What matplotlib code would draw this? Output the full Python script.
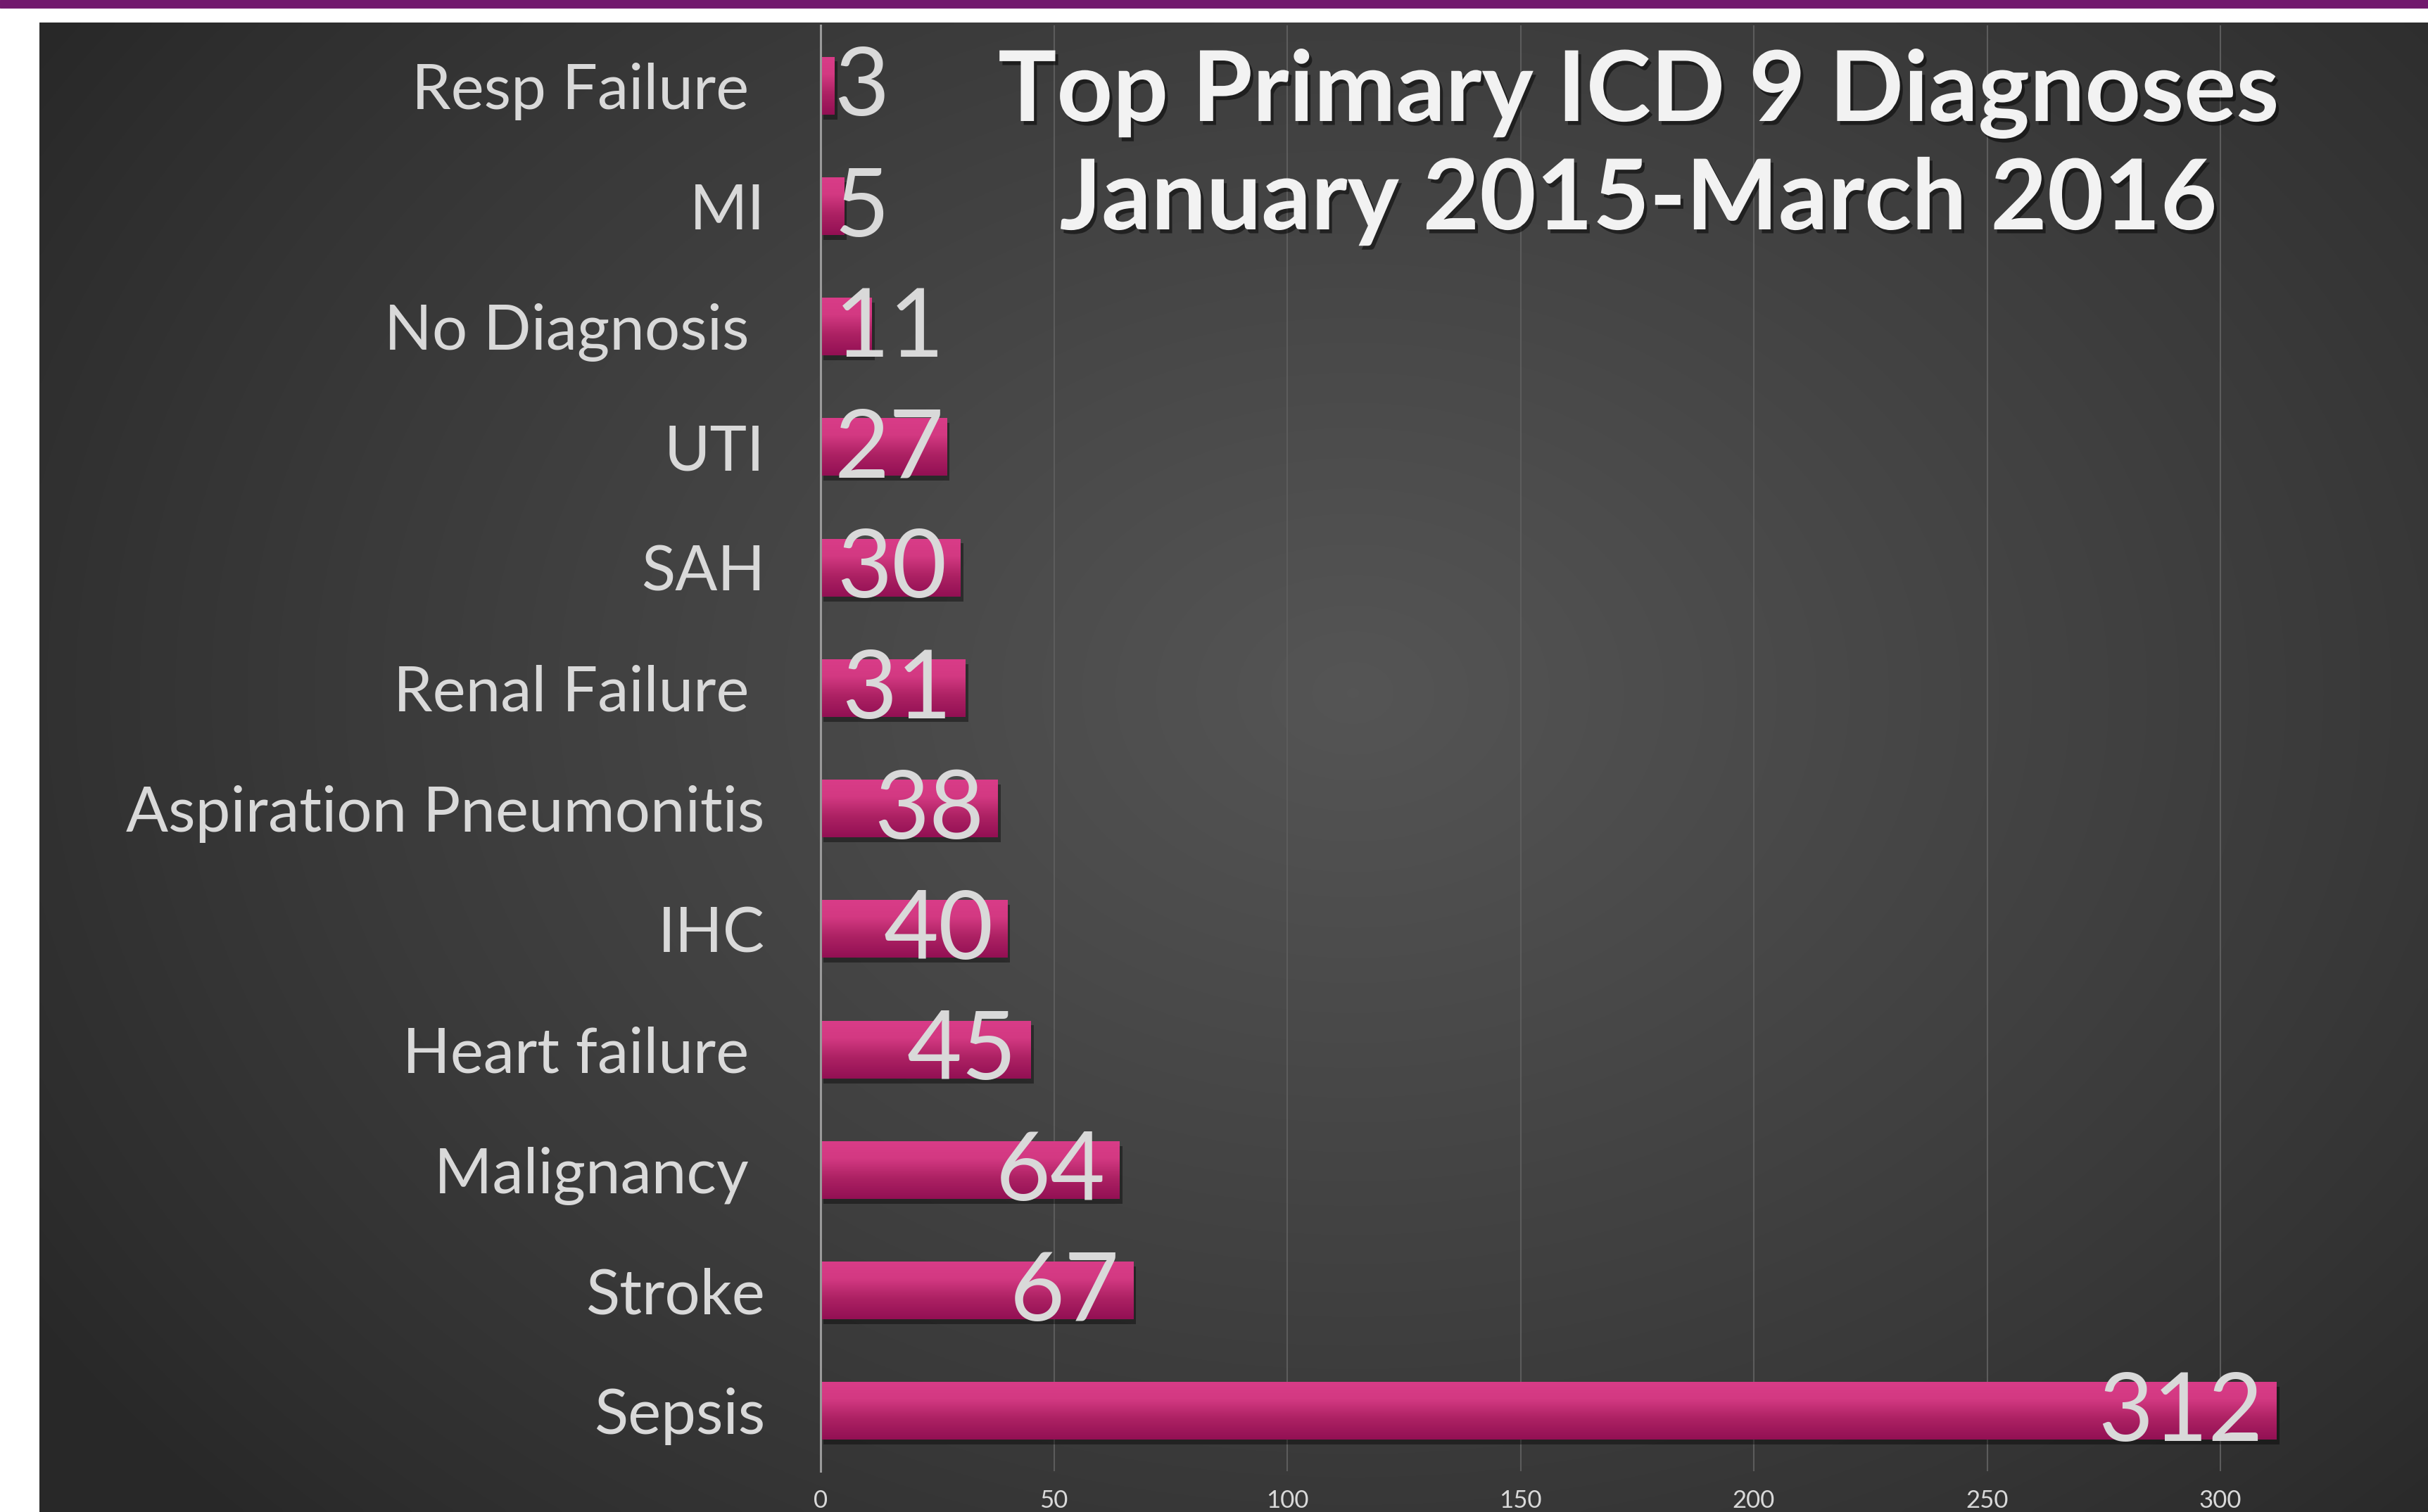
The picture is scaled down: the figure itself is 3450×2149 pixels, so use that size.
import numpy as np
import matplotlib
matplotlib.use('Agg')
import matplotlib.pyplot as plt
import matplotlib.patheffects as pe
from matplotlib.colors import LinearSegmentedColormap
from matplotlib.patches import Rectangle

# ── Data (top to bottom as shown) ────────────────────────────────────────────
diagnoses = ['Resp Failure ', 'MI', 'No Diagnosis ', 'UTI', 'SAH', 'Renal Failure ',
             'Aspiration Pneumonitis', 'IHC', 'Heart failure ', 'Malignancy ',
             'Stroke', 'Sepsis']
counts = [3, 5, 11, 27, 30, 31, 38, 40, 45, 64, 67, 312]
xticks = [0, 50, 100, 150, 200, 250, 300]
title_lines = ['Top Primary ICD 9 Diagnoses', 'January 2015-March 2016']

W, H, DPI = 3450, 2149, 100
FONT = ['Lato', 'DejaVu Sans']
LABEL_C = '#d9d9d9'

fig = plt.figure(figsize=(W / DPI, H / DPI), dpi=DPI, facecolor='white')

# purple strip at the top
fig.patches.append(Rectangle((0, 1 - 11 / H), 1, 11 / H, transform=fig.transFigure,
                             color='#72196D', zorder=0))

# dark panel with a soft radial light in the middle
bg = fig.add_axes([56 / W, 0, 1 - 56 / W, (H - 32) / H], zorder=0)
gx, gy = np.meshgrid(np.linspace(0, 1, 600), np.linspace(0, 1, 400))
r = np.sqrt(((gx - 0.55) / 0.66) ** 2 + ((gy - 0.45) / 0.8) ** 2)
shade = np.clip(1 - r, 0, 1) ** 0.9
bg_cmap = LinearSegmentedColormap.from_list('bg', ['#282828', '#555555'])
bg.imshow(shade, cmap=bg_cmap, aspect='auto', vmin=0, vmax=1, interpolation='bicubic')
bg.set_axis_off()

# main chart
ax = fig.add_axes([1166 / W, 1 - 2091 / H, (3354 - 1166) / W, (2091 - 36) / H], zorder=2)
ax.patch.set_alpha(0)
ypos = np.arange(len(diagnoses))
bars = ax.barh(ypos, counts, height=0.48, color='#C42C74', zorder=3)

bar_cmap = LinearSegmentedColormap.from_list(
    'bar', [(0, '#D93C88'), (0.3, '#D33982'), (0.65, '#AC2163'), (1, '#931054')])
grad = np.linspace(0, 1, 64).reshape(-1, 1)
for b in bars:
    b.set_path_effects([pe.SimplePatchShadow(offset=(3, -5), shadow_rgbFace='black', alpha=0.4),
                        pe.Normal()])
    x0, y0, w, h = b.get_x(), b.get_y(), b.get_width(), b.get_height()
    im = ax.imshow(grad, cmap=bar_cmap, aspect='auto', extent=(x0, x0 + w, y0 + h, y0),
                   zorder=4, interpolation='bicubic')
    im.set_clip_path(b)
ax.set_xlim(0, 330)
ax.set_ylim(len(diagnoses) - 0.5, -0.5)

ax.set_xticks(xticks)
ax.set_yticks(ypos)
ax.set_yticklabels(diagnoses)
ax.tick_params(axis='y', length=0, pad=57, labelsize=64, labelcolor=LABEL_C)
ax.tick_params(axis='x', length=0, pad=19, labelsize=25, labelcolor=LABEL_C)
for lab in ax.get_xticklabels() + ax.get_yticklabels():
    lab.set_family(FONT)
ax.grid(axis='x', color='#5c5c5c', lw=1.5, zorder=1)
ax.grid(axis='y', visible=False)
for s in ['top', 'right', 'bottom']:
    ax.spines[s].set_visible(False)
ax.spines['left'].set_color('#9a9a9a')
ax.spines['left'].set_linewidth(2.2)
ax.spines['left'].set_zorder(5)

# value labels: inside the bar end, or from the bar start when they do not fit
fig.canvas.draw()
renderer = fig.canvas.get_renderer()
for y, v in zip(ypos, counts):
    t = ax.annotate(str(v), (v, y), xytext=(-14, -3), textcoords='offset points',
                    ha='right', va='center', fontsize=97, color=LABEL_C,
                    family=FONT, zorder=6)
    bb = t.get_window_extent(renderer)
    x_start = ax.transData.transform((0, y))[0]
    if bb.x0 < x_start + 20:
        t.remove()
        ax.annotate(str(v), (0, y), xytext=(14, -3), textcoords='offset points',
                    ha='left', va='center', fontsize=97, color=LABEL_C,
                    family=FONT, zorder=6)

# title
title_fx = [pe.withSimplePatchShadow(offset=(3, -4), shadow_rgbFace='black', alpha=0.5)]
for i, line in enumerate(title_lines):
    fig.text(2328 / W, 1 - (172 + 154 * i) / H, line, ha='center', va='baseline',
             fontsize=100, fontweight='bold', color='#f2f2f2', family=FONT,
             path_effects=title_fx, zorder=10)

fig.savefig('out.png', dpi=DPI, facecolor=fig.get_facecolor())
